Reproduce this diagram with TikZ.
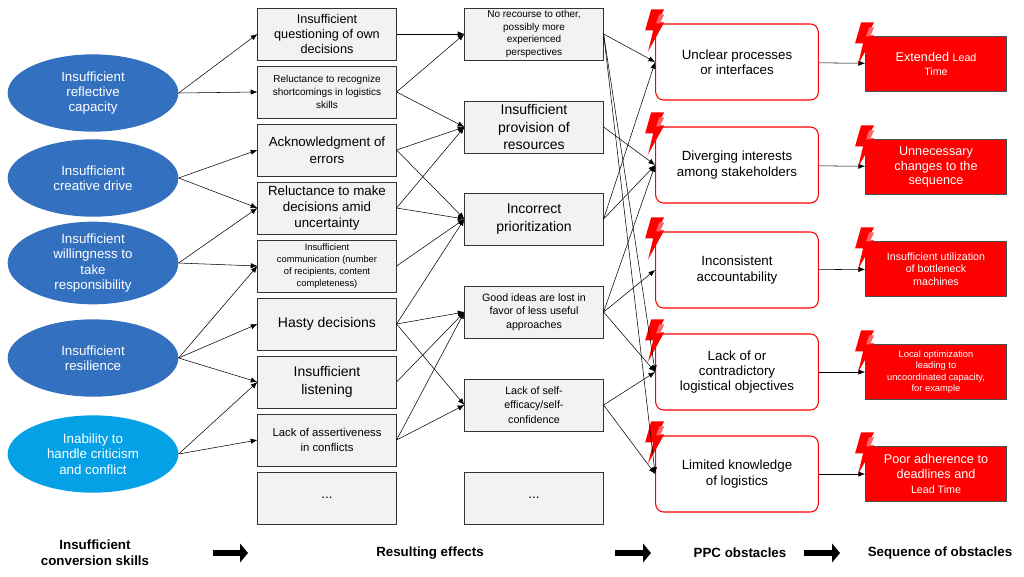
\documentclass[tikz,border=0pt]{standalone}
\usepackage{fontspec}
\setmainfont{Liberation Sans}
\usetikzlibrary{shapes.geometric,arrows.meta,calc}

\tikzset{
  cause/.style={ellipse, fill=#1, text=white, minimum width=128pt, minimum height=58pt, inner sep=0pt, align=center, font=\fontsize{10}{11.5}\selectfont},
  effect/.style={draw=black!80, fill=black!5, minimum width=104pt, minimum height=39pt, inner sep=1pt, align=center},
  obst/.style={draw=red, thick, rounded corners=6pt, fill=white, minimum width=122pt, minimum height=57pt, align=center, font=\fontsize{10}{11.5}\selectfont},
  seq/.style={draw=black!70, fill=red, text=white, minimum width=106pt, minimum height=41pt, align=center, inner sep=1pt},
  link/.style={-{Latex[length=5pt,width=4pt]}, thin},
  stage/.style={-{Triangle[length=6pt,width=14pt]}, line width=5pt},
  pics/bolt/.style={code={
    \fill[red] (6,0) -- (19,0) -- (12,13) -- (19,13) -- (3,42) -- (8,21) -- (0,21) -- cycle;
    \fill[red!60!white] (14,5) -- (19,5) -- (15,14) -- (11,14) -- cycle;
  }}
}

\begin{document}
\begin{tikzpicture}[x=0.75pt, y=-0.75pt]
  \useasboundingbox (0,0) rectangle (1024,576);

  % causes
  \node[cause={blue!55!black!70!cyan!80}] (e1) at (93,93) {Insufficient\\reflective\\capacity};
  \node[cause={blue!55!black!70!cyan!80}] (e2) at (93,178) {Insufficient\\creative drive};
  \node[cause={blue!55!black!70!cyan!80}] (e3) at (93,263) {Insufficient\\willingness to\\take\\responsibility};
  \node[cause={blue!55!black!70!cyan!80}] (e4) at (93,358) {Insufficient\\resilience};
  \node[cause={cyan!90!blue}] (e5) at (93,454) {Inability to\\handle criticism\\and conflict};

  % resulting effects
  \node[effect, font=\fontsize{9.5}{11}\selectfont] (b1) at (327,34) {Insufficient\\questioning of own\\decisions};
  \node[effect, font=\fontsize{7.5}{10}\selectfont] (b2) at (327,92) {Reluctance to recognize\\shortcomings in logistics\\skills};
  \node[effect, font=\fontsize{10}{13}\selectfont] (b3) at (327,150) {Acknowledgment of\\errors};
  \node[effect, font=\fontsize{10}{12}\selectfont] (b4) at (327,208) {Reluctance to make\\decisions amid\\uncertainty};
  \node[effect, font=\fontsize{7}{9}\selectfont] (b5) at (327,266) {Insufficient\\communication (number\\of recipients, content\\completeness)};
  \node[effect, font=\fontsize{10.5}{12}\selectfont] (b6) at (327,324) {Hasty decisions};
  \node[effect, font=\fontsize{10.5}{13}\selectfont] (b7) at (327,382) {Insufficient\\listening};
  \node[effect, font=\fontsize{8.5}{11}\selectfont] (b8) at (327,440) {Lack of assertiveness\\in conflicts};
  \node[effect, font=\fontsize{10}{12}\selectfont] (b9) at (327,498) {...};

  \node[effect, font=\fontsize{7.5}{9.5}\selectfont] (c1) at (534,34) {No recourse to other,\\possibly more\\experienced\\perspectives};
  \node[effect, font=\fontsize{10.5}{13}\selectfont] (c2) at (534,127) {Insufficient\\provision of\\resources};
  \node[effect, font=\fontsize{10.5}{13}\selectfont] (c3) at (534,219) {Incorrect\\prioritization};
  \node[effect, font=\fontsize{8}{10}\selectfont] (c4) at (534,312) {Good ideas are lost in\\favor of less useful\\approaches};
  \node[effect, font=\fontsize{8}{11}\selectfont] (c5) at (534,405) {Lack of self-\\efficacy/self-\\confidence};
  \node[effect, font=\fontsize{10}{12}\selectfont] (c6) at (534,498) {...};

  % PPC obstacles
  \node[obst] (d1) at (737,62) {Unclear processes\\or interfaces};
  \node[obst] (d2) at (737,165) {Diverging interests\\among stakeholders};
  \node[obst] (d3) at (737,270) {Inconsistent\\accountability};
  \node[obst] (d4) at (737,372) {Lack of or\\contradictory\\logistical objectives};
  \node[obst] (d5) at (737,474) {Limited knowledge\\of logistics};

  % sequence of obstacles
  \node[seq, font=\fontsize{9.5}{11}\selectfont] (f1) at (936,64) {Extended {\footnotesize Lead}\\{\footnotesize Time}};
  \node[seq, font=\fontsize{9.5}{11}\selectfont] (f2) at (936,167) {Unnecessary\\changes to the\\sequence};
  \node[seq, font=\fontsize{8}{9.5}\selectfont] (f3) at (936,269) {Insufficient utilization\\of bottleneck\\machines};
  \node[seq, font=\fontsize{7}{8.5}\selectfont] (f4) at (936,372) {Local optimization\\leading to\\uncoordinated capacity,\\for example};
  \node[seq, font=\fontsize{9.5}{11}\selectfont] (f5) at (936,474) {Poor adherence to\\deadlines and\\{\footnotesize Lead Time}};

  \foreach \n in {1,...,5} {
    \draw[link] (d\n) -- (f\n);
    \pic at ($(d\n.north west)+(-10,-14)$) {bolt};
    \pic at ($(f\n.north west)+(-10,-14)$) {bolt};
  }

  % causes to effects
  \foreach \a/\b in {e1/b1, e1/b2, e2/b3, e2/b4, e3/b4, e3/b5, e4/b5, e4/b6, e4/b7, e5/b7, e5/b8}
    \draw[link] (\a.east) -- (\b.west);
  \foreach \a/\b in {b1/c1, b2/c1, b2/c2, b3/c2, b3/c3, b4/c2, b4/c3, b5/c3, b6/c3, b6/c4, b6/c5, b7/c4, b8/c4, b8/c5}
    \draw[link] (\a.east) -- (\b.west);
  \foreach \a/\b in {c1/d1, c1/d4, c1/d5, c2/d2, c3/d1, c3/d2, c4/d2, c4/d3, c4/d4, c5/d4, c5/d5}
    \draw[link] (\a.east) -- (\b.west);

  % bottom row
  \node[font=\bfseries\fontsize{10}{12}\selectfont, align=center] (l1) at (95,553) {Insufficient\\conversion skills};
  \node[font=\bfseries\fontsize{10}{12}\selectfont] (l2) at (430,553) {Resulting effects};
  \node[font=\bfseries\fontsize{10}{12}\selectfont] (l3) at (740,553) {PPC obstacles};
  \node[font=\bfseries\fontsize{10}{12}\selectfont] (l4) at (940,553) {Sequence of obstacles};
  \coordinate (s1) at (213,553); \coordinate (t1) at (248,553);
  \coordinate (s2) at (615,553); \coordinate (t2) at (651,553);
  \coordinate (s3) at (804,553); \coordinate (t3) at (840,553);
  \foreach \n in {1,2,3}
    \draw[stage] (s\n) -- (t\n);
\end{tikzpicture}
\end{document}
